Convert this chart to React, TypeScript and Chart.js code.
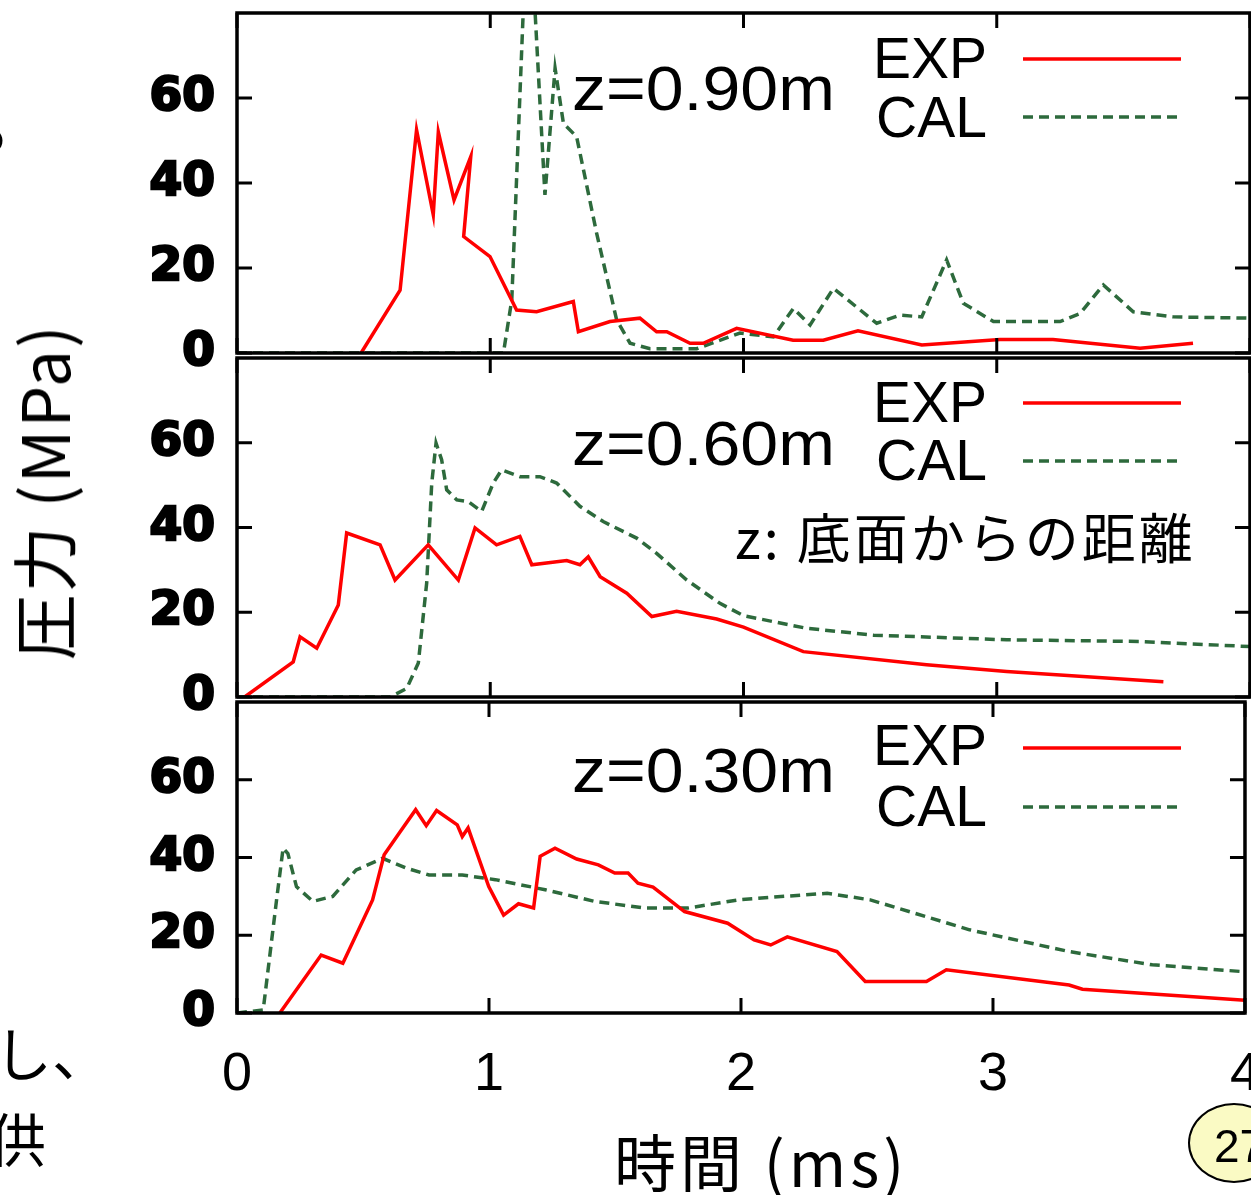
import React, { useEffect, useRef } from 'react';
import { Chart, registerables } from 'chart.js';

Chart.register(...registerables);

// ---------- data ----------
const X_TICKS = [0, 1, 2, 3, 4];
const Y_TICKS = [0, 20, 40, 60];
const SERIES_LABELS = ['EXP', 'CAL'];
const PANEL_LABELS = ['z=0.90m', 'z=0.60m', 'z=0.30m'];
const NOTE_TEXT = 'z: 底面からの距離';
const X_TITLE = '時間 (ms)';
const Y_TITLE = '圧力 (MPa)';

// z = 0.90 m
const exp90Time = [0.49, 0.644, 0.709, 0.775, 0.795, 0.857, 0.923, 0.895, 0.999, 1.104, 1.183, 1.328, 1.348, 1.473, 1.591, 1.657, 1.697, 1.789, 1.841, 1.973, 2.196, 2.315, 2.452, 2.704, 3.013, 3.222, 3.566, 3.775];
const exp90Pressure = [0, 14.8, 52.5, 32.5, 52, 36, 46.2, 27.4, 22.7, 10.1, 9.7, 12.1, 5.0, 7.4, 8.2, 5.0, 5.0, 2.3, 2.3, 5.8, 3.0, 3.0, 5.2, 1.9, 3.2, 3.2, 1.1, 2.3];
const cal90Time = [0, 1.052, 1.085, 1.15, 1.216, 1.256, 1.289, 1.341, 1.42, 1.499, 1.552, 1.631, 1.815, 1.986, 2.118, 2.197, 2.263, 2.355, 2.526, 2.618, 2.704, 2.802, 2.868, 2.987, 3.25, 3.329, 3.421, 3.539, 3.697, 4.0];
const cal90Pressure = [0, 0, 12.5, 110, 37.2, 67, 54, 50.9, 28.2, 7.8, 2.3, 1.0, 1.0, 4.7, 3.8, 10.5, 6.6, 15.2, 7.0, 8.9, 8.5, 21.9, 11.7, 7.4, 7.4, 9.3, 16.0, 9.7, 8.5, 8.2];

// z = 0.60 m
const exp60Time = [0.03, 0.222, 0.249, 0.315, 0.4, 0.433, 0.565, 0.624, 0.755, 0.874, 0.94, 1.025, 1.117, 1.164, 1.302, 1.354, 1.387, 1.434, 1.539, 1.638, 1.736, 1.894, 2.0, 2.236, 2.723, 3.039, 3.658];
const exp60Pressure = [0, 8.3, 14.2, 11.5, 21.7, 38.7, 35.9, 27.6, 35.9, 27.6, 39.9, 35.9, 37.9, 31.2, 32.2, 31.2, 33.1, 28.4, 24.5, 19.0, 20.2, 18.4, 16.5, 10.7, 7.6, 6.0, 3.6];
const cal60Time = [0, 0.604, 0.67, 0.716, 0.749, 0.769, 0.786, 0.808, 0.828, 0.868, 0.913, 0.966, 1.012, 1.045, 1.117, 1.196, 1.262, 1.354, 1.446, 1.578, 1.657, 1.776, 1.907, 2.0, 2.25, 2.513, 3.039, 3.566, 4.0];
const cal60Pressure = [0, 0, 2.0, 8.0, 26.9, 50.5, 59.9, 56.0, 48.9, 46.5, 46.1, 43.8, 50.5, 53.6, 52.0, 52.0, 50.5, 45.0, 41.4, 37.5, 33.9, 27.6, 22.1, 19.2, 16.2, 14.6, 13.5, 13.1, 11.9];

// z = 0.30 m
const exp30Time = [0.17, 0.334, 0.42, 0.538, 0.584, 0.644, 0.709, 0.751, 0.792, 0.874, 0.894, 0.917, 0.999, 1.058, 1.117, 1.177, 1.203, 1.262, 1.348, 1.434, 1.499, 1.552, 1.591, 1.651, 1.776, 1.947, 2.052, 2.118, 2.184, 2.381, 2.493, 2.736, 2.815, 3.302, 3.355, 4.0];
const exp30Pressure = [0, 14.9, 12.8, 29.1, 40.7, 46.3, 52.3, 48.2, 52.1, 48.4, 45.4, 47.6, 32.5, 25.2, 28.1, 27.0, 40.3, 42.4, 39.6, 38.1, 36.0, 36.0, 33.4, 32.4, 26.1, 23.1, 18.8, 17.5, 19.6, 15.8, 8.1, 8.1, 11.1, 7.2, 6.1, 3.3];
const cal30Time = [0, 0.104, 0.157, 0.183, 0.202, 0.236, 0.301, 0.38, 0.473, 0.578, 0.67, 0.762, 0.894, 1.025, 1.223, 1.42, 1.618, 1.789, 2.0, 2.342, 2.513, 2.907, 3.302, 3.632, 4.0];
const cal30Pressure = [0, 0.8, 29.1, 42.4, 41.0, 32.5, 28.7, 30.0, 36.8, 39.8, 37.3, 35.5, 35.5, 34.3, 31.7, 28.7, 27.0, 27.0, 29.2, 30.8, 29.1, 21.4, 15.8, 12.4, 10.6];

// ---------- styles ----------
const EXP_COLOR = '#ff0000';
const CAL_COLOR = '#2d6a3c';
const CAL_DASH = [10, 6];
const LINE_W = 3.5;
const LATIN = '"Liberation Sans", Arial, sans-serif';
const CJK = '"Noto Sans CJK JP", "Noto Sans CJK SC", sans-serif';

const zip = (t: number[], p: number[]) => t.map((x, i) => ({ x, y: p[i] }));

const decorPlugin = {
  id: 'decor',
  afterDraw(chart: any, _args: any, opts: any) {
    const { ctx, chartArea: a, scales } = chart;
    const xs = scales.x;
    const ys = scales.y;
    ctx.save();
    // frame
    ctx.strokeStyle = '#000';
    ctx.lineWidth = 3.5;
    ctx.setLineDash([]);
    ctx.strokeRect(a.left, a.top, a.right - a.left, a.bottom - a.top);
    // inward ticks
    const L = 15;
    ctx.lineWidth = 3;
    ctx.beginPath();
    Y_TICKS.forEach((v) => {
      const y = ys.getPixelForValue(v);
      ctx.moveTo(a.left, y);
      ctx.lineTo(a.left + L, y);
      ctx.moveTo(a.right, y);
      ctx.lineTo(a.right - L, y);
    });
    X_TICKS.forEach((v) => {
      const x = xs.getPixelForValue(v);
      ctx.moveTo(x, a.bottom);
      ctx.lineTo(x, a.bottom - L);
      ctx.moveTo(x, a.top);
      ctx.lineTo(x, a.top + L);
    });
    ctx.stroke();
    // legend (gnuplot style: text then sample)
    chart.data.datasets.forEach((ds: any, i: number) => {
      ctx.fillStyle = '#000';
      ctx.font = `57px ${LATIN}`;
      ctx.textAlign = 'right';
      ctx.textBaseline = 'alphabetic';
      ctx.fillText(ds.label, 987, a.top + opts.legendText[i]);
      ctx.strokeStyle = ds.borderColor;
      ctx.lineWidth = LINE_W;
      ctx.setLineDash(ds.borderDash || []);
      ctx.beginPath();
      ctx.moveTo(1023, a.top + opts.legendLine[i]);
      ctx.lineTo(1181, a.top + opts.legendLine[i]);
      ctx.stroke();
    });
    ctx.setLineDash([]);
    // panel label
    ctx.save();
    ctx.translate(572, a.top + opts.labelBase);
    ctx.scale(1.08, 1);
    ctx.fillStyle = '#000';
    ctx.font = `63px ${LATIN}`;
    ctx.textAlign = 'left';
    ctx.textBaseline = 'alphabetic';
    ctx.fillText(opts.label, 0, 0);
    ctx.restore();
    if (opts.note) {
      ctx.fillStyle = '#000';
      ctx.font = `54px ${CJK}`;
      (ctx as any).letterSpacing = '3px';
      ctx.textAlign = 'left';
      ctx.textBaseline = 'middle';
      ctx.fillText(opts.note, 735, a.top + opts.noteOffset);
      (ctx as any).letterSpacing = '0px';
    }
    ctx.restore();
  },
};

type PanelProps = {
  top: number;
  plotHeight: number;
  showX: boolean;
  exp: { x: number; y: number }[];
  cal: { x: number; y: number }[];
  decor: any;
};

const PAD_TOP = 60;
const PAD_BOTTOM = 60;
const X_AXIS_H = 182;
const CANVAS_W = 1290;

function Panel({ top, plotHeight, showX, exp, cal, decor }: PanelProps) {
  const ref = useRef<HTMLCanvasElement | null>(null);
  const canvasH = PAD_TOP + plotHeight + (showX ? X_AXIS_H : PAD_BOTTOM);
  useEffect(() => {
    if (!ref.current) return;
    const chart = new Chart(ref.current, {
      type: 'line',
      data: {
        datasets: [
          {
            label: SERIES_LABELS[0],
            data: exp,
            borderColor: EXP_COLOR,
            backgroundColor: EXP_COLOR,
            borderWidth: LINE_W,
            pointRadius: 0,
            tension: 0,
            fill: false,
          },
          {
            label: SERIES_LABELS[1],
            data: cal,
            borderColor: CAL_COLOR,
            backgroundColor: CAL_COLOR,
            borderWidth: LINE_W,
            borderDash: CAL_DASH,
            pointRadius: 0,
            tension: 0,
            fill: false,
          },
        ],
      },
      options: {
        animation: false,
        responsive: false,
        devicePixelRatio: 1,
        layout: { padding: { top: PAD_TOP, bottom: showX ? 0 : PAD_BOTTOM, left: 0, right: 40 } },
        plugins: {
          legend: { display: false },
          tooltip: { enabled: false },
          decor,
        } as any,
        scales: {
          x: {
            type: 'linear',
            min: 0,
            max: 4,
            display: showX,
            afterBuildTicks: (s: any) => {
              s.ticks = X_TICKS.map((v) => ({ value: v }));
            },
            afterFit: (s: any) => {
              s.height = showX ? X_AXIS_H : 0;
            },
            grid: { display: false, drawTicks: false },
            border: { display: false },
            ticks: {
              color: '#000',
              font: { family: LATIN, size: 54 },
              padding: 30,
              autoSkip: false,
              maxRotation: 0,
            },
          },
          y: {
            type: 'linear',
            min: 0,
            max: 80,
            afterBuildTicks: (s: any) => {
              s.ticks = Y_TICKS.map((v) => ({ value: v }));
            },
            afterFit: (s: any) => {
              s.width = 237;
            },
            grid: { display: false, drawTicks: false },
            border: { display: false },
            ticks: {
              color: '#000',
              font: { family: '"DejaVu Sans", sans-serif', size: 47, weight: 'bold' },
              textStrokeColor: '#000',
              textStrokeWidth: 2.5,
              padding: 22,
              autoSkip: false,
            },
          },
        },
      } as any,
      plugins: [decorPlugin],
    });
    return () => chart.destroy();
  }, []);
  return (
    <canvas
      ref={ref}
      width={CANVAS_W}
      height={canvasH}
      style={{ position: 'absolute', left: 0, top: top - PAD_TOP, width: CANVAS_W, height: canvasH }}
    />
  );
}

const textStyle: React.CSSProperties = {
  position: 'absolute',
  whiteSpace: 'nowrap',
  lineHeight: 1,
  color: '#000',
  fontFamily: CJK,
};

export default function App() {
  return (
    <div
      style={{
        position: 'absolute',
        left: 0,
        top: 0,
        width: 1251,
        height: 1195,
        overflow: 'hidden',
        background: '#fff',
      }}
    >
      {/* clipped slide-text fragments */}
      <div style={{ ...textStyle, left: -42, top: 104, fontSize: 52 }}>る</div>
      <div style={{ ...textStyle, left: -6, top: 1022, fontSize: 58 }}>し、</div>
      <div style={{ ...textStyle, left: -12, top: 1108, fontSize: 58 }}>供</div>

      <Panel
        top={13}
        plotHeight={340}
        showX={false}
        exp={zip(exp90Time, exp90Pressure)}
        cal={zip(cal90Time, cal90Pressure)}
        decor={{ label: PANEL_LABELS[0], labelBase: 97, legendText: [65, 124], legendLine: [46, 104] }}
      />
      <Panel
        top={358}
        plotHeight={339}
        showX={false}
        exp={zip(exp60Time, exp60Pressure)}
        cal={zip(cal60Time, cal60Pressure)}
        decor={{
          label: PANEL_LABELS[1],
          labelBase: 107,
          legendText: [64, 122],
          legendLine: [45, 103],
          note: NOTE_TEXT,
          noteOffset: 180,
        }}
      />
      <Panel
        top={702}
        plotHeight={311}
        showX={true}
        exp={zip(exp30Time, exp30Pressure)}
        cal={zip(cal30Time, cal30Pressure)}
        decor={{ label: PANEL_LABELS[2], labelBase: 90, legendText: [63, 124], legendLine: [46, 105] }}
      />

      {/* axis titles */}
      <div
        style={{
          ...textStyle,
          left: 41,
          top: 492,
          fontSize: 66,
          letterSpacing: 2,
          transform: 'translate(-50%, -50%) rotate(-90deg)',
        }}
      >
        {Y_TITLE}
      </div>
      <div
        style={{
          ...textStyle,
          left: 761,
          top: 1160,
          fontSize: 62,
          letterSpacing: 4,
          transform: 'translate(-50%, -50%)',
        }}
      >
        {X_TITLE}
      </div>

      {/* page number badge */}
      <div
        style={{
          position: 'absolute',
          left: 1188,
          top: 1103,
          width: 92,
          height: 80,
          borderRadius: '50%',
          border: '2.5px solid #000',
          background: '#fafac4',
          boxSizing: 'border-box',
        }}
      >
        <div style={{ ...textStyle, left: 24, top: 18, fontSize: 46, fontFamily: LATIN }}>27</div>
      </div>
    </div>
  );
}
